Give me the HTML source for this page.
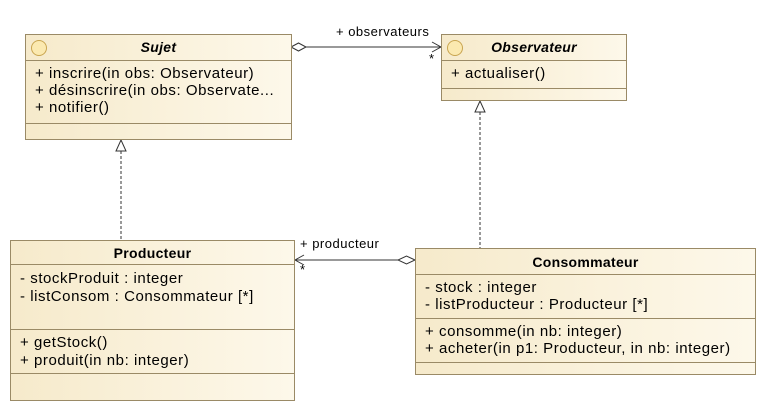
<!DOCTYPE html>
<html><head><meta charset="utf-8"><style>
body{margin:0;width:766px;height:413px;background:#fff;position:relative;font-family:"Liberation Sans",sans-serif;font-size:15px;letter-spacing:0.55px;color:#000;overflow:hidden}
.b{position:absolute;border:1px solid #9a8a66;background:linear-gradient(90deg,#f6eacb,#fdf8ea);box-sizing:border-box}
.h{position:absolute;left:0;right:0;text-align:center;font-weight:bold;font-size:14px;letter-spacing:0.3px}
.s{position:absolute;left:0;right:0;border-top:1px solid #9a8a66}
.t{position:absolute;white-space:nowrap;line-height:17px}
.c{position:absolute;left:5px;top:5px;width:16px;height:16px;border:1px solid #c9a550;border-radius:50%;background:#fbe9b0;box-sizing:border-box}
</style></head><body>
<svg width="766" height="413" style="position:absolute;left:0;top:0">
<g stroke="#333" fill="none" stroke-width="1">
<line x1="306" y1="47" x2="441" y2="47"/>
<polygon points="291,47 298.5,43 306,47 298.5,51" fill="#fff"/>
<polyline points="432,42 441,47 432,52"/>
<line x1="121" y1="151" x2="121" y2="240" stroke-dasharray="3,2"/>
<polygon points="121,140 116,151 126,151" fill="#fff"/>
<line x1="480" y1="112" x2="480" y2="248" stroke-dasharray="3,2"/>
<polygon points="480,101 475,112 485,112" fill="#fff"/>
<line x1="295" y1="260" x2="398" y2="260"/>
<polygon points="415,260 406.5,256 398,260 406.5,264" fill="#fff"/>
<polyline points="304,255 295,260 304,265"/>
</g>
<g font-family="Liberation Sans" font-size="13" letter-spacing="0.5" fill="#000">
<text x="336" y="36">+ observateurs</text>
<text x="429" y="63">*</text>
<text x="300" y="248">+ producteur</text>
<text x="300" y="274">*</text>
</g>
</svg>
<div class="b" style="left:25px;top:34px;width:267px;height:106px">
<div class="c"></div><div class="h" style="top:4px;font-style:italic">Sujet</div>
<div class="s" style="top:25px"></div>
<div class="t" style="left:9px;top:30px">+ inscrire(in obs: Observateur)</div>
<div class="t" style="left:9px;top:47px">+ désinscrire(in obs: Observate...</div>
<div class="t" style="left:9px;top:64px">+ notifier()</div>
<div class="s" style="top:88px"></div>
</div>
<div class="b" style="left:441px;top:34px;width:186px;height:67px">
<div class="c"></div><div class="h" style="top:4px;font-style:italic">Observateur</div>
<div class="s" style="top:25px"></div>
<div class="t" style="left:9px;top:30px">+ actualiser()</div>
<div class="s" style="top:53px"></div>
</div>
<div class="b" style="left:10px;top:240px;width:285px;height:161px">
<div class="h" style="top:4px">Producteur</div>
<div class="s" style="top:23px"></div>
<div class="t" style="left:9px;top:29px">- stockProduit : integer</div>
<div class="t" style="left:9px;top:47px">- listConsom : Consommateur [*]</div>
<div class="s" style="top:88px"></div>
<div class="t" style="left:9px;top:93px">+ getStock()</div>
<div class="t" style="left:9px;top:111px">+ produit(in nb: integer)</div>
<div class="s" style="top:132px"></div>
</div>
<div class="b" style="left:415px;top:248px;width:341px;height:127px">
<div class="h" style="top:5px">Consommateur</div>
<div class="s" style="top:25px"></div>
<div class="t" style="left:9px;top:30px">- stock : integer</div>
<div class="t" style="left:9px;top:47px">- listProducteur : Producteur [*]</div>
<div class="s" style="top:69px"></div>
<div class="t" style="left:9px;top:74px">+ consomme(in nb: integer)</div>
<div class="t" style="left:9px;top:91px">+ acheter(in p1: Producteur, in nb: integer)</div>
<div class="s" style="top:113px"></div>
</div>
</body></html>
